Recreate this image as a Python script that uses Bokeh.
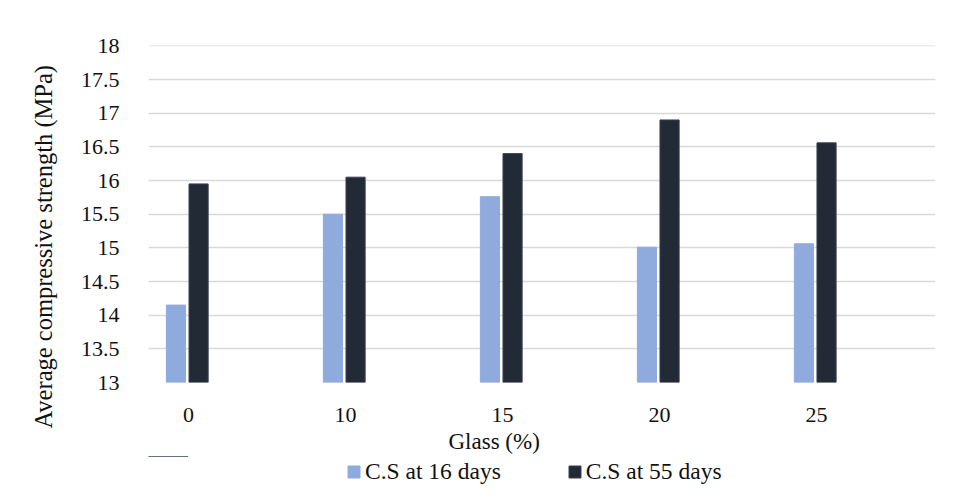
from bokeh.plotting import figure
from bokeh.layouts import column
from bokeh.models import Range1d, FixedTicker, Legend, LegendItem, Title, ColumnDataSource
from bokeh.embed import file_html
from bokeh.resources import INLINE

categories = ["0", "10", "15", "20", "25"]
cs_16_days = [14.15, 15.50, 15.76, 15.01, 15.06]
cs_55_days = [15.95, 16.05, 16.40, 16.90, 16.56]
y_ticks = [13, 13.5, 14, 14.5, 15, 15.5, 16, 16.5, 17, 17.5, 18]
series_names = ["C.S at 16 days", "C.S at 55 days"]

FONT = "Liberation Serif"
TXT = "#111111"
LIGHT = "#8FAADC"
DARK = "#222A35"

idx = list(range(len(categories)))
src = ColumnDataSource(dict(
    x16=[i - 0.08 for i in idx],
    x55=[i + 0.064 for i in idx],
    v16=cs_16_days,
    v55=cs_55_days,
))

p = figure(frame_width=787, frame_height=337,
           x_range=Range1d(-0.255, 4.758), y_range=Range1d(13, 18.006),
           output_backend="svg", toolbar_location=None,
           min_border_left=148, min_border_top=45, min_border_right=20,
           min_border_bottom=74, outline_line_color=None)

p.vbar(x="x16", top="v16", bottom=13, width=0.122, source=src,
       fill_color=LIGHT, line_color=LIGHT)
p.vbar(x="x55", top="v55", bottom=13, width=0.122, source=src,
       fill_color=DARK, line_color="#3a4150")

p.xgrid.visible = False
p.ygrid.grid_line_color = "#D9D9D9"
p.ygrid.grid_line_width = 1.6

p.yaxis.ticker = FixedTicker(ticks=y_ticks)
p.yaxis.major_label_overrides = {t: ("%g" % t) for t in y_ticks}
p.xaxis.ticker = FixedTicker(ticks=idx)
p.xaxis.major_label_overrides = {i: c for i, c in zip(idx, categories)}

for ax in (p.xaxis[0], p.yaxis[0]):
    ax.axis_line_color = None
    ax.major_tick_line_color = None
    ax.minor_tick_line_color = None
    ax.major_label_text_font = FONT
    ax.major_label_text_font_size = "22px"
    ax.major_label_text_color = TXT
p.yaxis.major_label_standoff = 23
p.xaxis.major_label_standoff = 19

xt = Title(text="Glass (%)", align="left", offset=300,
           text_font=FONT, text_font_size="23px", text_font_style="normal",
           text_color=TXT, standoff=5)
p.add_layout(xt, "below")

yt = Title(text="Average compressive strength (MPa)", align="left", offset=-46,
           text_font=FONT, text_font_size="24.5px", text_font_style="normal",
           text_color=TXT, standoff=42)
p.add_layout(yt, "left")

# legend strip below the chart (its renderers are zero-height and lie outside the strip's range)
p2 = figure(width=955, height=34, x_range=Range1d(0, 1), y_range=Range1d(0, 1),
            output_backend="svg", toolbar_location=None,
            x_axis_location=None, y_axis_location=None,
            min_border_left=0, min_border_right=0, min_border_top=0, min_border_bottom=0,
            outline_line_color=None)
p2.grid.visible = False
e16 = p2.vbar(x=[idx[0]], bottom=[cs_16_days[0]], top=[cs_16_days[0]], width=0.1,
              fill_color=LIGHT, line_color=LIGHT)
e55 = p2.vbar(x=[idx[0]], bottom=[cs_55_days[0]], top=[cs_55_days[0]], width=0.1,
              fill_color=DARK, line_color="#3a4150")

legend = Legend(items=[LegendItem(label=series_names[0], renderers=[e16]),
                       LegendItem(label=series_names[1], renderers=[e55])],
                orientation="horizontal", location=(198, 5),
                label_text_font=FONT, label_text_font_size="23.5px",
                label_text_color=TXT, glyph_width=15, glyph_height=15,
                label_standoff=4, spacing=66, padding=0, margin=0,
                border_line_color=None, background_fill_alpha=0)
p2.add_layout(legend, "center")

layout = column(p, p2, spacing=0)
open("out.html", "w").write(file_html(layout, INLINE))
